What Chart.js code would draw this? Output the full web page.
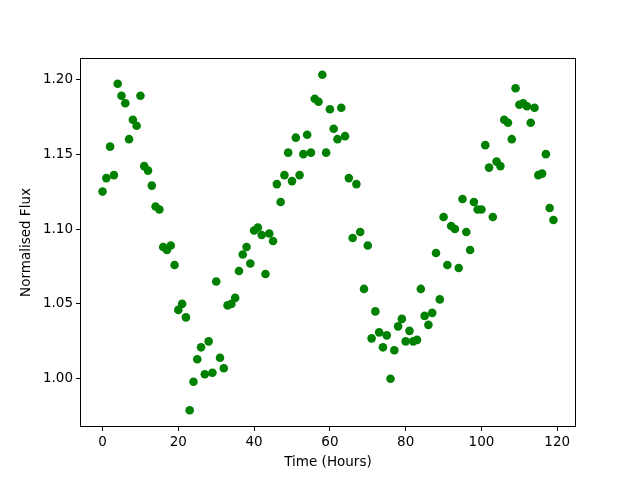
<!DOCTYPE html>
<html>
<head>
<meta charset="utf-8">
<script src="https://cdn.jsdelivr.net/npm/chart.js@4.4.1/dist/chart.umd.min.js"></script>
<style>
  body { margin: 0; background: #fff; }
  canvas { display: block; }
</style>
</head>
<body>
<canvas id="grafico" width="640" height="480"></canvas>
<script>
// tempo em horas
var horas = [0, 1, 2, 3, 4, 5, 6, 7, 8, 9,
  10, 11, 12, 13, 14, 15, 16, 17, 18, 19,
  20, 21, 22, 23, 24, 25, 26, 27, 28, 29,
  30, 31, 32, 33, 34, 35, 36, 37, 38, 39,
  40, 41, 42, 43, 44, 45, 46, 47, 48, 49,
  50, 51, 52, 53, 54, 55, 56, 57, 58, 59,
  60, 61, 62, 63, 64, 65, 66, 67, 68, 69,
  70, 71, 72, 73, 74, 75, 76, 77, 78, 79,
  80, 81, 82, 83, 84, 85, 86, 87, 88, 89,
  90, 91, 92, 93, 94, 95, 96, 97, 98, 99,
  100, 101, 102, 103, 104, 105, 106, 107, 108, 109,
  110, 111, 112, 113, 114, 115, 116, 117, 118, 119];

// fluxo normalizado
var fluxo = [1.125, 1.134, 1.155, 1.136, 1.197, 1.189, 1.184, 1.160, 1.173, 1.169,
  1.189, 1.142, 1.139, 1.129, 1.115, 1.113, 1.088, 1.086, 1.089, 1.076,
  1.046, 1.050, 1.041, 0.979, 0.998, 1.013, 1.021, 1.003, 1.025, 1.004,
  1.065, 1.014, 1.007, 1.049, 1.050, 1.054, 1.072, 1.083, 1.088, 1.077,
  1.099, 1.101, 1.096, 1.070, 1.097, 1.092, 1.130, 1.118, 1.136, 1.151,
  1.132, 1.161, 1.136, 1.150, 1.163, 1.151, 1.187, 1.185, 1.203, 1.151,
  1.180, 1.167, 1.160, 1.181, 1.162, 1.134, 1.094, 1.130, 1.098, 1.060,
  1.089, 1.027, 1.045, 1.031, 1.021, 1.029, 1.000, 1.019, 1.035, 1.040,
  1.025, 1.032, 1.025, 1.026, 1.060, 1.042, 1.036, 1.044, 1.084, 1.053,
  1.108, 1.076, 1.102, 1.100, 1.074, 1.120, 1.098, 1.086, 1.118, 1.113,
  1.113, 1.156, 1.141, 1.108, 1.145, 1.142, 1.173, 1.171, 1.160, 1.194,
  1.183, 1.184, 1.182, 1.171, 1.181, 1.136, 1.137, 1.150, 1.114, 1.106];

var ticksX = [0, 20, 40, 60, 80, 100, 120];
var ticksY = [1.00, 1.05, 1.10, 1.15, 1.20];

// limites com margem de 5% (como o matplotlib)
function limites(arr) {
    var mn = Math.min.apply(null, arr), mx = Math.max.apply(null, arr);
    var m = (mx - mn) * 0.05;
    return [mn - m, mx + m];
}
var limX = limites(horas);
var limY = limites(fluxo);

var pontos = [];
for (var i = 0; i < horas.length; i++) {
    pontos.push({ x: horas[i], y: fluxo[i] });
}

// moldura em volta da area do grafico
var moldura = {
    id: 'moldura',
    afterDraw: function (chart) {
        var a = chart.chartArea;
        var ctx = chart.ctx;
        ctx.save();
        ctx.strokeStyle = '#000';
        ctx.lineWidth = 1;
        ctx.strokeRect(Math.round(a.left) + 0.5, Math.round(a.top) + 0.5,
            Math.round(a.right - a.left) - 1, Math.round(a.bottom - a.top) - 1);
        ctx.restore();
    }
};

Chart.defaults.font.family = 'DejaVu Sans';
Chart.defaults.color = '#000';

var ctx = document.getElementById('grafico').getContext('2d');
var chart = new Chart(ctx, {
    type: 'scatter',
    data: {
        datasets: [{
            data: pontos,
            backgroundColor: '#008000',
            borderColor: '#008000',
            borderWidth: 0,
            pointRadius: 4.3,
            pointHoverRadius: 4.3
        }]
    },
    options: {
        responsive: false,
        animation: false,
        layout: { padding: { left: 0, top: 58, right: 64, bottom: 0 } },
        plugins: {
            legend: { display: false },
            tooltip: { enabled: false }
        },
        scales: {
            x: {
                type: 'linear',
                min: limX[0],
                max: limX[1],
                afterBuildTicks: function (axis) {
                    axis.ticks = ticksX.map(function (v) { return { value: v }; });
                },
                afterFit: function (axis) { axis.height = 53; },
                grid: { display: true, drawOnChartArea: false, drawTicks: true, tickLength: 4, color: '#000' },
                border: { display: false },
                ticks: { padding: 3, font: { size: 13.5 }, maxRotation: 0,
                    callback: function (v) { return v; } },
                title: { display: true, text: 'Time (Hours)', font: { size: 13.5 }, padding: { top: 0, bottom: 9 } }
            },
            y: {
                type: 'linear',
                min: limY[0],
                max: limY[1],
                afterBuildTicks: function (axis) {
                    axis.ticks = ticksY.map(function (v) { return { value: v }; });
                },
                afterFit: function (axis) { axis.width = 80; },
                grid: { display: true, drawOnChartArea: false, drawTicks: true, tickLength: 4, color: '#000' },
                border: { display: false },
                ticks: { padding: 3, font: { size: 13.5 },
                    callback: function (v) { return v.toFixed(2); } },
                title: { display: true, text: 'Normalised Flux', font: { size: 13.5 }, padding: { top: 18, bottom: 0 } }
            }
        }
    },
    plugins: [moldura]
});
</script>
</body>
</html>
